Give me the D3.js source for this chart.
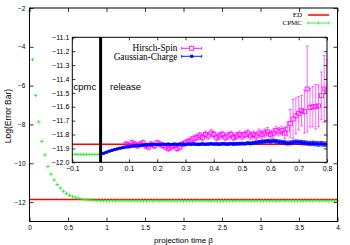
<!DOCTYPE html>
<html><head><meta charset="utf-8">
<script src="https://cdn.jsdelivr.net/npm/d3@7"></script>
<style>html,body{margin:0;padding:0;background:#fff;}svg{display:block;}</style>
</head><body>
<script>
// ---------- data ----------
const mainXTicks = [0, 0.5, 1, 1.5, 2, 2.5, 3, 3.5, 4];
const mainYTicks = [-2, -4, -6, -8, -10, -12];
const insetXTicks = [-0.1, 0, 0.1, 0.2, 0.3, 0.4, 0.5, 0.6, 0.7, 0.8];
const insetYTicks = [-11.1, -11.2, -11.3, -11.4, -11.5, -11.6, -11.7, -11.8, -11.9, -12];
const edValue = -11.87;
const cpmcStep = 0.04;
const cpmcValues = [-2.15, -4.66, -6.5, -7.87, -8.87, -9.57, -10.17, -10.56, -10.86, -11.1,
  -11.28, -11.44, -11.56, -11.65, -11.72, -11.77, -11.81, -11.85, -11.87, -11.89,
  -11.9, -11.91, -11.92, -11.93, -11.92, -11.93, -11.94, -11.93, -11.94, -11.93,
  -11.94, -11.93, -11.94, -11.94, -11.93, -11.94, -11.93, -11.94, -11.94, -11.93,
  -11.94, -11.93, -11.94, -11.94, -11.93, -11.94, -11.94, -11.93, -11.94, -11.93,
  -11.94, -11.94, -11.93, -11.94, -11.94, -11.93, -11.94, -11.93, -11.94, -11.94,
  -11.93, -11.94, -11.94, -11.93, -11.94, -11.94, -11.93, -11.94, -11.93, -11.94,
  -11.94, -11.93, -11.94, -11.94, -11.93, -11.94, -11.93, -11.94, -11.94, -11.93,
  -11.94, -11.94, -11.93, -11.94, -11.93, -11.94, -11.94, -11.93, -11.94, -11.94,
  -11.93, -11.94, -11.94, -11.93, -11.94, -11.93, -11.94, -11.94, -11.93, -11.94, -11.94];
// inset: cpmc phase before release
const insetCpmcX = [-0.1, -0.09, -0.08, -0.07, -0.06, -0.05, -0.04, -0.03, -0.02, -0.01, 0];
const insetCpmcY = [-11.943, -11.943, -11.943, -11.943, -11.943, -11.943, -11.943, -11.943, -11.943, -11.943, -11.943];
// Hirsch-Spin (release), beta from 0.09 step 0.01
const hirschStart = 0.09;
const hirschValues = [-11.87, -11.88, -11.86, -11.87, -11.88, -11.87, -11.86, -11.88, -11.89, -11.87,
  -11.88, -11.86, -11.87, -11.88, -11.89, -11.9, -11.89, -11.88, -11.9, -11.89,
  -11.87, -11.86, -11.85, -11.84, -11.83, -11.82, -11.81, -11.82, -11.8, -11.81,
  -11.79, -11.8, -11.82, -11.81, -11.8, -11.82, -11.81, -11.8, -11.82, -11.81,
  -11.8, -11.81, -11.8, -11.79, -11.81, -11.8, -11.81, -11.79, -11.8, -11.79,
  -11.78, -11.8, -11.79, -11.77, -11.78, -11.77, -11.79, -11.76, -11.72, -11.688,
  -11.666, -11.647, -11.628, -11.635, -11.472, -11.606, -11.6, -11.6, -11.594, -11.52,
  -11.472, -11.48];
const hirschErrors = [0.02, 0.02, 0.02, 0.02, 0.02, 0.02, 0.02, 0.02, 0.02, 0.02,
  0.02, 0.02, 0.02, 0.02, 0.02, 0.02, 0.02, 0.02, 0.02, 0.02,
  0.02, 0.02, 0.02, 0.025, 0.025, 0.025, 0.025, 0.025, 0.025, 0.025,
  0.025, 0.025, 0.025, 0.025, 0.025, 0.025, 0.025, 0.025, 0.025, 0.025,
  0.025, 0.025, 0.025, 0.025, 0.025, 0.025, 0.025, 0.03, 0.03, 0.03,
  0.03, 0.03, 0.03, 0.03, 0.03, 0.03, 0.04, 0.05, 0.1, 0.14,
  0.13, 0.12, 0.11, 0.155, 0.31, 0.14, 0.145, 0.16, 0.15, 0.17,
  0.24, 0.22];
// Gaussian-Charge (release), beta from 0 step 0.01
const gaussStart = 0;
const gaussValues = [-11.945, -11.935, -11.928, -11.92, -11.914, -11.908, -11.903, -11.898, -11.894, -11.89,
  -11.887, -11.884, -11.882, -11.88, -11.878, -11.876, -11.875, -11.874, -11.873, -11.872,
  -11.871, -11.872, -11.87, -11.871, -11.869, -11.872, -11.87, -11.871, -11.869, -11.87,
  -11.872, -11.869, -11.87, -11.868, -11.871, -11.87, -11.868, -11.87, -11.869, -11.867,
  -11.869, -11.868, -11.87, -11.867, -11.868, -11.869, -11.866, -11.868, -11.867, -11.866,
  -11.865, -11.866, -11.862, -11.864, -11.86, -11.857, -11.855, -11.852, -11.85, -11.848,
  -11.85, -11.846, -11.849, -11.852, -11.855, -11.858, -11.862, -11.86, -11.856, -11.853,
  -11.855, -11.858, -11.86, -11.862, -11.865, -11.863, -11.866, -11.868, -11.866, -11.869, -11.87];
const gaussErrors = [0.004, 0.004, 0.004, 0.004, 0.005, 0.005, 0.005, 0.005, 0.005, 0.005,
  0.005, 0.005, 0.005, 0.005, 0.005, 0.006, 0.006, 0.006, 0.006, 0.006,
  0.006, 0.006, 0.006, 0.006, 0.006, 0.007, 0.007, 0.007, 0.007, 0.007,
  0.007, 0.007, 0.007, 0.008, 0.008, 0.008, 0.008, 0.008, 0.008, 0.008,
  0.008, 0.009, 0.009, 0.009, 0.009, 0.009, 0.009, 0.01, 0.01, 0.01,
  0.01, 0.01, 0.01, 0.011, 0.011, 0.011, 0.012, 0.012, 0.012, 0.012,
  0.012, 0.013, 0.013, 0.013, 0.013, 0.013, 0.014, 0.014, 0.014, 0.014,
  0.015, 0.015, 0.015, 0.015, 0.015, 0.016, 0.016, 0.016, 0.016, 0.016, 0.016];

// ---------- styles ----------
const W = 350, H = 245;
const RED = "#ff0000", GREEN = "#22ee22", MAG = "#ff00ff", BLUE = "#0000ff";
const SANS = "'Liberation Sans', Arial, sans-serif";
const SERIF = "'Liberation Serif', 'Times New Roman', serif";

const svg = d3.select("body").append("svg").attr("width", W).attr("height", H);
svg.append("rect").attr("width", W).attr("height", H).attr("fill", "#fff");

// ---------- main plot ----------
const x = d3.scaleLinear().domain([0, 4]).range([29.5, 337.5]);
const y = d3.scaleLinear().domain([-13, -2]).range([221.5, 8]);

const main = svg.append("g");
main.append("line").attr("x1", x(0)).attr("x2", x(4)).attr("y1", y(edValue)).attr("y2", y(edValue))
  .attr("stroke", RED).attr("stroke-width", 1.5);

const cpmc = cpmcValues.map((v, i) => ({b: i * cpmcStep, v}));
main.append("g").selectAll("path").data(cpmc).join("path")
  .attr("d", d => `M${x(d.b)-1.8},${y(d.v)}h3.6M${x(d.b)},${y(d.v)-1.8}v3.6`)
  .attr("stroke", GREEN).attr("stroke-width", 0.9).attr("fill", "none");

function axisBox(g, xs, ys, xt, yt, tl, fs, xfmt, yfmt, xLabDy, yLabDx) {
  const [x0, x1] = xs.range(), [y0, y1] = ys.range();
  g.append("rect").attr("x", x0).attr("y", y1).attr("width", x1 - x0).attr("height", y0 - y1)
    .attr("fill", "none").attr("stroke", "#000").attr("stroke-width", 1);
  const bottom = d3.axisBottom(xs).tickValues(xt).tickSizeInner(-tl).tickSizeOuter(0).tickFormat(xfmt).tickPadding(xLabDy);
  const top = d3.axisTop(xs).tickValues(xt).tickSizeInner(-tl).tickSizeOuter(0).tickFormat("");
  const left = d3.axisLeft(ys).tickValues(yt).tickSizeInner(-tl).tickSizeOuter(0).tickFormat(yfmt).tickPadding(yLabDx);
  const right = d3.axisRight(ys).tickValues(yt).tickSizeInner(-tl).tickSizeOuter(0).tickFormat("");
  const ab = g.append("g").attr("transform", `translate(0,${y0})`).call(bottom);
  const at = g.append("g").attr("transform", `translate(0,${y1})`).call(top);
  const al = g.append("g").attr("transform", `translate(${x0},0)`).call(left);
  const ar = g.append("g").attr("transform", `translate(${x1},0)`).call(right);
  [ab, at, al, ar].forEach(a => {
    a.select(".domain").remove();
    a.selectAll("line").attr("stroke", "#000").attr("stroke-width", 0.8);
    a.selectAll("text").attr("font-family", SANS).attr("font-size", fs).attr("fill", "#000");
  });
}

// ---------- inset ----------
const xi = d3.scaleLinear().domain([-0.1, 0.8]).range([72.3, 327]);
const yi = d3.scaleLinear().domain([-12, -11.1]).range([162.3, 37.3]);

main.append("rect").attr("x", 72.3).attr("y", 37.3).attr("width", 327 - 72.3).attr("height", 162.3 - 37.3)
  .attr("fill", "#fff");

axisBox(main, x, y, mainXTicks, mainYTicks, 4, 6.5, d3.format("~g"), d3.format("~g"), 4, 4);

const inset = svg.append("g");
inset.append("clipPath").attr("id", "ic").append("rect")
  .attr("x", 72.3).attr("y", 37.3).attr("width", 327 - 72.3).attr("height", 162.3 - 37.3);
const idata = inset.append("g").attr("clip-path", "url(#ic)");

idata.append("line").attr("x1", xi(-0.1)).attr("x2", xi(0.8)).attr("y1", yi(edValue)).attr("y2", yi(edValue))
  .attr("stroke", RED).attr("stroke-width", 1.3);

idata.append("g").selectAll("path").data(insetCpmcX.map((b, i) => ({b, v: insetCpmcY[i]}))).join("path")
  .attr("d", d => `M${xi(d.b)-1.6},${yi(d.v)}h3.2M${xi(d.b)},${yi(d.v)-1.6}v3.2`)
  .attr("stroke", GREEN).attr("stroke-width", 0.9);

// Hirsch-Spin
const hs = hirschValues.map((v, i) => ({b: hirschStart + i * 0.01, v, e: hirschErrors[i]}));
const hg = idata.append("g").attr("stroke", MAG).attr("fill", "none").attr("stroke-width", 0.8);
hg.selectAll("path.eb").data(hs).join("path").attr("class", "eb")
  .attr("d", d => `M${xi(d.b)},${yi(d.v - d.e)}V${yi(d.v + d.e)}M${xi(d.b)-1.5},${yi(d.v + d.e)}h3M${xi(d.b)-1.5},${yi(d.v - d.e)}h3`)
  .attr("stroke-opacity", 0.75);
hg.selectAll("rect").data(hs).join("rect")
  .attr("x", d => xi(d.b) - 2).attr("y", d => yi(d.v) - 2).attr("width", 4).attr("height", 4);

// Gaussian-Charge
const gc = gaussValues.map((v, i) => ({b: gaussStart + i * 0.01, v, e: gaussErrors[i]}));
const gg = idata.append("g").attr("stroke", BLUE).attr("stroke-width", 0.8);
gg.selectAll("path.eb").data(gc).join("path").attr("class", "eb").attr("fill", "none")
  .attr("d", d => `M${xi(d.b)},${yi(d.v - d.e)}V${yi(d.v + d.e)}M${xi(d.b)-1.5},${yi(d.v + d.e)}h3M${xi(d.b)-1.5},${yi(d.v - d.e)}h3`);
gg.append("path").attr("fill", "none").attr("stroke-width", 1.2)
  .attr("d", d3.line().x(d => xi(d.b)).y(d => yi(d.v))(gc));
gg.selectAll("rect").data(gc).join("rect").attr("fill", BLUE).attr("stroke", "none")
  .attr("x", d => xi(d.b) - 1.5).attr("y", d => yi(d.v) - 1.5).attr("width", 3).attr("height", 3);

// release line
inset.append("line").attr("x1", xi(0)).attr("x2", xi(0)).attr("y1", yi(-11.1)).attr("y2", yi(-12))
  .attr("stroke", "#000").attr("stroke-width", 3);

axisBox(inset, xi, yi, insetXTicks, insetYTicks, 3, 7, d3.format("~g"), d3.format(".1f"), 4, 3);
inset.selectAll("text").filter(function(){ return d3.select(this).text() === "-12.0"; }).text("-12");

inset.append("text").attr("x", 73.5).attr("y", 89.5).attr("font-family", SANS).attr("font-size", 9.5).text("cpmc");
inset.append("text").attr("x", 110).attr("y", 89.5).attr("font-family", SANS).attr("font-size", 9.5).text("release");

// inset legend
const il = inset.append("g");
il.append("text").attr("x", 177.5).attr("y", 51).attr("text-anchor", "end").attr("font-family", SERIF).attr("font-size", 9.3).text("Hirsch-Spin");
il.append("text").attr("x", 177.5).attr("y", 59.8).attr("text-anchor", "end").attr("font-family", SERIF).attr("font-size", 9.3).text("Gaussian-Charge");
il.append("path").attr("d", "M181.7,48.3H201.7M181.7,46.8v3M201.7,46.8v3").attr("stroke", MAG).attr("stroke-width", 0.9).attr("fill", "none");
il.append("rect").attr("x", 189.7).attr("y", 46.3).attr("width", 4).attr("height", 4).attr("stroke", MAG).attr("fill", "#fff").attr("stroke-width", 0.9);
il.append("path").attr("d", "M181.7,56.3H201.7M181.7,54.8v3M201.7,54.8v3").attr("stroke", BLUE).attr("stroke-width", 0.9).attr("fill", "none");
il.append("rect").attr("x", 190.2).attr("y", 54.8).attr("width", 3).attr("height", 3).attr("fill", BLUE);

// main legend
const ml = svg.append("g");
ml.append("text").attr("x", 302).attr("y", 17.3).attr("text-anchor", "end").attr("font-family", SERIF).attr("font-size", 7).text("ED");
ml.append("text").attr("x", 302).attr("y", 25.3).attr("text-anchor", "end").attr("font-family", SERIF).attr("font-size", 7).text("CPMC");
ml.append("line").attr("x1", 308).attr("x2", 329).attr("y1", 15).attr("y2", 15).attr("stroke", RED).attr("stroke-width", 1.5);
ml.append("path").attr("d", "M308,23H329M308,21.5v3M329,21.5v3M318.5,21.5v3").attr("stroke", GREEN).attr("stroke-width", 0.9).attr("fill", "none");

// axis titles
svg.append("text").attr("x", 183.5).attr("y", 243).attr("text-anchor", "middle")
  .attr("font-family", SANS).attr("font-size", 8).text("projection time β");
svg.append("text").attr("transform", "translate(11,116) rotate(-90)").attr("text-anchor", "middle")
  .attr("font-family", SANS).attr("font-size", 8.5).text("Log(Error Bar)");
</script>
</body></html>
